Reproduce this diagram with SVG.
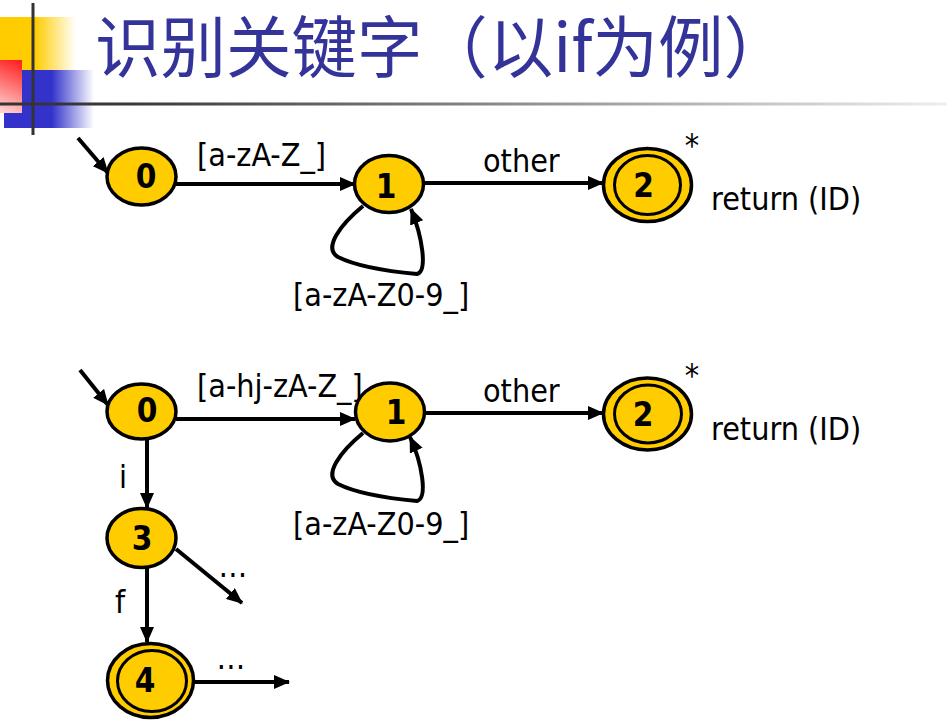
<svg xmlns="http://www.w3.org/2000/svg" width="947" height="721" viewBox="0 0 947 721">
<defs>
<linearGradient id="gY" gradientUnits="userSpaceOnUse" x1="0" y1="0" x2="76" y2="0">
<stop offset="0" stop-color="#FFCC00"/><stop offset="0.46" stop-color="#FFCC00"/><stop offset="1" stop-color="#FFCC00" stop-opacity="0"/>
</linearGradient>
<linearGradient id="gB" gradientUnits="userSpaceOnUse" x1="4" y1="0" x2="94" y2="0">
<stop offset="0" stop-color="#3333CC"/><stop offset="0.53" stop-color="#3333CC"/><stop offset="1" stop-color="#3333CC" stop-opacity="0"/>
</linearGradient>
<linearGradient id="gR" gradientUnits="userSpaceOnUse" x1="22" y1="60" x2="0" y2="113">
<stop offset="0" stop-color="#FF1A1A"/><stop offset="1" stop-color="#FFD8D8"/>
</linearGradient>
<linearGradient id="gL" gradientUnits="userSpaceOnUse" x1="0" y1="0" x2="947" y2="0">
<stop offset="0" stop-color="#333333"/><stop offset="0.15" stop-color="#3a3a3a"/><stop offset="1" stop-color="#EEEEEE"/>
</linearGradient>
<marker id="ah" markerUnits="userSpaceOnUse" markerWidth="18" markerHeight="14" refX="15" refY="7" orient="auto">
<path d="M0,0 L16,7 L0,14 z" fill="#000"/>
</marker>
</defs>
<style>
.st{fill:#FFCC00;stroke:#000;stroke-width:3.5}
.in{fill:none;stroke:#000;stroke-width:3}
.dg{font-family:"DejaVu Sans Condensed","DejaVu Sans",sans-serif;font-weight:bold;font-size:33px;fill:#000;text-anchor:middle}
.lb{font-family:"DejaVu Sans Condensed","DejaVu Sans",sans-serif;font-size:32px;fill:#000}
.ed{fill:none;stroke:#000;stroke-width:4;marker-end:url(#ah)}
.title{font-family:"Noto Sans CJK SC","DejaVu Sans",sans-serif;font-size:67px;fill:#333399}
</style>
<rect width="947" height="721" fill="#fff"/>
<g id="decoration">
<rect x="0" y="17" width="76" height="53" fill="url(#gY)"/>
<rect x="4" y="70" width="90" height="58" fill="url(#gB)"/>
<rect x="0" y="60" width="22" height="53" fill="url(#gR)"/>
<rect x="0" y="102.5" width="947" height="3" fill="url(#gL)"/>
<rect x="31.5" y="3" width="3" height="132" fill="#333"/>
</g>
<text class="title" x="95" y="72" textLength="694" lengthAdjust="spacingAndGlyphs">识别关键字（以if为例）</text>

<g id="connectors">
<path class="ed" d="M78,138 L108,173"/>
<path class="ed" d="M176,184 L355,184"/>
<path class="ed" d="M423,183 L603,183"/>
<path class="ed" d="M363,206 C340,225 323,248 338,257 C358,267 395,272 417,274 C428,271 422,236 411,209"/>
<path class="ed" d="M80,370 L108,405"/>
<path class="ed" d="M176,419 L355,419"/>
<path class="ed" d="M425,413 L603,413"/>
<path class="ed" d="M363,433 C340,452 323,475 338,484 C358,494 395,499 417,501 C428,498 422,463 410,437"/>
<path class="ed" d="M147,439 L147,508"/>
<path class="ed" d="M147,568 L147,642"/>
<path class="ed" d="M176,549 L242,603"/>
<path class="ed" d="M194,682 L289,682"/>
</g>

<g id="labels">
<text class="lb" x="197" y="166">[a-zA-Z_]</text>
<text class="lb" x="483" y="172">other</text>
<text class="lb" x="293" y="306">[a-zA-Z0-9_]</text>
<text class="lb" x="692" y="156" text-anchor="middle">*</text>
<text class="lb" x="711" y="210">return (ID)</text>
<text class="lb" x="197" y="397">[a-hj-zA-Z_]</text>
<text class="lb" x="483" y="402">other</text>
<text class="lb" x="293" y="535">[a-zA-Z0-9_]</text>
<text class="lb" x="692" y="386" text-anchor="middle">*</text>
<text class="lb" x="711" y="440">return (ID)</text>
<text class="lb" x="123" y="488" text-anchor="middle">i</text>
<text class="lb" x="120" y="613" text-anchor="middle">f</text>
<text class="lb" x="233" y="577" text-anchor="middle">…</text>
<text class="lb" x="231" y="669" text-anchor="middle">…</text>
</g>

<g id="t0">
<ellipse class="st" cx="141.5" cy="176.5" rx="34.5" ry="28.5"/>
<text class="dg" x="146" y="188">0</text>
</g>
<g id="t1">
<ellipse class="st" cx="389" cy="184" rx="34.5" ry="28.5"/>
<text class="dg" x="386" y="198">1</text>
</g>
<g id="t2">
<ellipse class="st" cx="647.5" cy="185" rx="44" ry="36.5"/>
<ellipse class="in" cx="647.5" cy="185" rx="33" ry="29.5"/>
<text class="dg" x="643.5" y="197">2</text>
</g>
<g id="b0">
<ellipse class="st" cx="141.5" cy="411.5" rx="34.5" ry="27.5"/>
<text class="dg" x="147" y="422">0</text>
</g>
<g id="b1">
<ellipse class="st" cx="390" cy="412" rx="34.5" ry="29"/>
<text class="dg" x="396" y="424">1</text>
</g>
<g id="b2">
<ellipse class="st" cx="647.5" cy="414" rx="44" ry="36"/>
<ellipse class="in" cx="648" cy="414" rx="33.5" ry="29"/>
<text class="dg" x="643" y="426">2</text>
</g>
<g id="b3">
<ellipse class="st" cx="141.5" cy="538" rx="34.5" ry="29.5"/>
<text class="dg" x="142" y="550">3</text>
</g>
<g id="b4">
<ellipse class="st" cx="150.5" cy="680.5" rx="43" ry="37"/>
<ellipse class="in" cx="152" cy="681" rx="34.5" ry="30.5"/>
<text class="dg" x="145" y="692">4</text>
</g>
</svg>
